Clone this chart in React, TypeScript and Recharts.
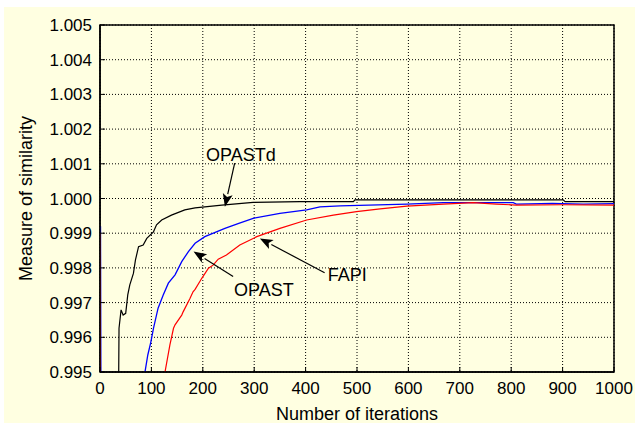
import React from 'react';
import {
  LineChart,
  Line,
  XAxis,
  YAxis,
  CartesianGrid,
  ReferenceLine,
  ReferenceDot,
  ReferenceArea,
} from 'recharts';

// tick values
const xTicks = [0, 100, 200, 300, 400, 500, 600, 700, 800, 900, 1000];
const yTicks = [0.995, 0.996, 0.997, 0.998, 0.999, 1.0, 1.001, 1.002, 1.003, 1.004, 1.005];

// OPASTd (black)
const opastdIter = [0, 2, 34, 37, 41, 45, 50, 54, 58, 65, 69, 75, 84, 91, 104, 110, 120, 139, 165, 185, 237, 298, 389, 493, 496, 901, 905, 1000];
const opastdVal = [0.999, 0.99, 0.99, 0.99626, 0.99679, 0.99664, 0.99669, 0.99722, 0.99751, 0.99784, 0.99823, 0.99861, 0.99866, 0.99885, 0.99904, 0.99924, 0.99938, 0.99952, 0.99967, 0.99973, 0.99981, 0.99989, 0.99991, 0.99991, 0.99996, 0.99996, 0.99991, 0.99991];

// OPAST (blue)
const opastIter = [1, 2.5, 86, 87.5, 93, 99, 104, 113, 123, 133, 146, 159, 172, 185, 204, 230, 243, 270, 298, 350, 402, 428, 467, 597, 668, 804, 810, 880, 940, 1000];
const opastVal = [0.9992, 0.99, 0.99, 0.995, 0.99549, 0.99587, 0.99626, 0.99684, 0.99722, 0.99756, 0.9978, 0.99818, 0.99847, 0.99871, 0.9989, 0.99906, 0.99914, 0.99928, 0.99943, 0.99957, 0.99967, 0.99976, 0.99979, 0.99984, 0.99988, 0.99988, 0.99984, 0.99986, 0.99984, 0.99985];

// FAPI (red)
const fapiIter = [0, 2, 125, 126.5, 136, 143, 146, 159, 162, 175, 181, 185, 198, 211, 220, 230, 246, 272, 305, 350, 402, 454, 499, 545, 597, 668, 726, 771, 810, 900, 1000];
const fapiVal = [0.999, 0.99, 0.99, 0.995, 0.99578, 0.99626, 0.99636, 0.99664, 0.99674, 0.99712, 0.99731, 0.99738, 0.9977, 0.99799, 0.99808, 0.99825, 0.99837, 0.99866, 0.9989, 0.99914, 0.99938, 0.99952, 0.99962, 0.9997, 0.99978, 0.99984, 0.99988, 0.99984, 0.99981, 0.99982, 0.99981];

// annotations: label position, arrow tail, arrow tip
const notes = [
  { name: 'OPASTd', label: [274, 1.00127], tail: [262, 1.00102], tip: [243, 0.99976] },
  { name: 'OPAST', label: [319, 0.99736], tail: [259, 0.99775], tip: [182, 0.99847] },
  { name: 'FAPI', label: [481, 0.9978], tail: [437, 0.99786], tip: [311, 0.99885] },
];

const toRows = (its: number[], vals: number[]) => its.map((it, i) => ({ it, v: vals[i] }));

const font = '"Liberation Sans", Arial, sans-serif';

const Arrow = (props: any) => {
  const { x1, y1, x2, y2 } = props;
  const dx = x2 - x1;
  const dy = y2 - y1;
  const len = Math.sqrt(dx * dx + dy * dy) || 1;
  const ux = dx / len;
  const uy = dy / len;
  const hl = 13;
  const hw = 5;
  const bx = x2 - ux * hl;
  const by = y2 - uy * hl;
  const pts = `${x2},${y2} ${bx - uy * hw},${by + ux * hw} ${bx + ux * 3},${by + uy * 3} ${bx + uy * hw},${by - ux * hw}`;
  return (
    <g>
      <line x1={x1} y1={y1} x2={bx} y2={by} stroke="#000" strokeWidth={1.2} />
      <polygon points={pts} fill="#000" />
    </g>
  );
};

const YLabel = (props: any) => {
  const vb = props.viewBox || { x: 0, y: 18, width: 96, height: 347 };
  const cx = vb.x + 22;
  const cy = vb.y + vb.height / 2;
  return (
    <text
      x={cx}
      y={cy}
      transform={`rotate(-90 ${cx} ${cy})`}
      textAnchor="middle"
      dominantBaseline="central"
      fontSize={18}
      fontFamily={font}
      fill="#000"
    >
      Measure of similarity
    </text>
  );
};

export default function App() {
  const tickStyle = { fill: '#000', fontSize: 17, fontFamily: font };
  return (
    <div style={{ position: 'absolute', left: 0, top: 0, width: 635, height: 423, background: '#fff' }}>
      <div style={{ position: 'absolute', left: 4, top: 7, width: 631, height: 416, background: '#FFFFE1' }}>
        <LineChart width={631} height={416} margin={{ top: 18, right: 21, bottom: 0, left: 0 }}>
          <CartesianGrid stroke="#000" strokeDasharray="1 2" strokeWidth={1} />
          <XAxis
            type="number"
            dataKey="it"
            domain={[0, 1000]}
            ticks={xTicks}
            allowDataOverflow
            height={51}
            tick={tickStyle}
            tickSize={-5}
            tickMargin={15}
            axisLine={{ stroke: '#000', strokeWidth: 1.5 }}
            tickLine={{ stroke: '#000' }}
            label={{ value: 'Number of iterations', position: 'insideBottom', offset: 3, fill: '#000', fontSize: 18, fontFamily: font }}
          />
          <YAxis
            type="number"
            domain={[0.995, 1.005]}
            ticks={yTicks}
            allowDataOverflow
            width={96}
            tick={tickStyle}
            tickSize={-5}
            tickMargin={13}
            tickFormatter={(v: number) => v.toFixed(3)}
            axisLine={{ stroke: '#000', strokeWidth: 1.5 }}
            tickLine={{ stroke: '#000' }}
            label={<YLabel />}
          />
          <XAxis
            xAxisId="top"
            orientation="top"
            type="number"
            domain={[0, 1000]}
            ticks={xTicks}
            height={0}
            tick={false}
            tickSize={-5}
            axisLine={false}
            tickLine={{ stroke: '#000' }}
          />
          <YAxis
            yAxisId="right"
            orientation="right"
            type="number"
            domain={[0.995, 1.005]}
            ticks={yTicks}
            width={0}
            tick={false}
            tickSize={-5}
            axisLine={false}
            tickLine={{ stroke: '#000' }}
          />
          <ReferenceArea x1={0} x2={1000} y1={0.995} y2={1.005} fill="none" stroke="#000" strokeWidth={1.5} />
          <Line data={toRows(opastdIter, opastdVal)} dataKey="v" stroke="#000" strokeWidth={1.2} dot={false} isAnimationActive={false} />
          <Line data={toRows(opastIter, opastVal)} dataKey="v" stroke="#0000FF" strokeWidth={1.3} dot={false} isAnimationActive={false} />
          <Line data={toRows(fapiIter, fapiVal)} dataKey="v" stroke="#FF0000" strokeWidth={1.2} dot={false} isAnimationActive={false} />
          {notes.map((n) => (
            <ReferenceLine
              key={n.name + '-arrow'}
              segment={[{ x: n.tail[0], y: n.tail[1] }, { x: n.tip[0], y: n.tip[1] }]}
              shape={<Arrow />}
            />
          ))}
          {notes.map((n) => (
            <ReferenceDot
              key={n.name + '-label'}
              x={n.label[0]}
              y={n.label[1]}
              r={0}
              fill="none"
              stroke="none"
              label={{ value: n.name, position: 'center', fill: '#000', fontSize: 18, fontFamily: font }}
            />
          ))}
        </LineChart>
      </div>
    </div>
  );
}
